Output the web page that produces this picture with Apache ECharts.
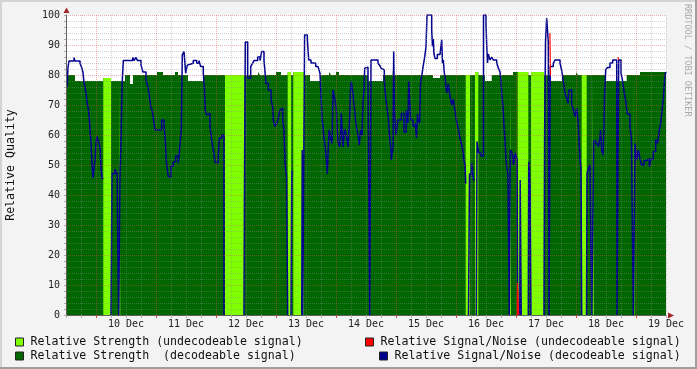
<!DOCTYPE html>
<html><head><meta charset="utf-8">
<script src="https://cdn.jsdelivr.net/npm/echarts@6/dist/echarts.min.js"></script>
<style>html,body{margin:0;padding:0;background:#f3f3f3;}#c{width:697px;height:369px;}</style>
</head><body><div id="c"></div>
<script>
// x = sample index, one step = 24 minutes, index 0 = 9 Dec 12:00
const dayLabels = ['10 Dec','11 Dec','12 Dec','13 Dec','14 Dec','15 Dec','16 Dec','17 Dec','18 Dec','19 Dec'];
const yTicks = [0,10,20,30,40,50,60,70,80,90,100];
const midnightIdx = [30,90,150,210,270,330,390,450,510,570];

// total relative strength (step changes)
const strength = [[0,80],[9,78],[37.3,79],[45,78],[59,80],[64,77],[67,80],[91,81],[97,80],[109,81],[112,80],[122,78],[137,80],[192,81],[194,80],[210,81],[215,80],[221.7,81],[225,80],[227.3,81],[238,80],[244,78],[254,80],[263,81],[265,80],[270,81],[273,80],[302,78],[317,80],[326.7,81.5],[328.3,80],[367,79],[374,80],[409,81],[412.3,80],[419,78],[425.7,80],[447,81],[462.3,80],[465,81],[478,80],[485,78],[496,80],[510,81],[512,80],[539,78],[560.7,80],[574,81],[600,81]];

// relative strength while the signal was undecodeable
const undecodeableStrength = [[0,0],[37.3,79],[45,0],[53.3,79],[54.3,0],[159,80],[178.3,0],[221.7,81],[225,0],[227.3,81],[238,0],[399.7,80],[404,0],[409,81],[412.3,0],[444,80],[445,0],[451.7,81],[462.3,0],[465,81],[478,0],[515.7,80],[520.7,0],[526.7,80],[527.7,0],[567.7,80],[568.5,0],[600,0]];

// relative signal/noise, decodeable signal
const snDecodeable = [[1,76],[2,82.5],[3,84.7],[8,85.8],[9,84.7],[14,83.9],[16,82.2],[17,80.8],[18,77.4],[19,75.9],[20,74],[21,71],[22,69.4],[23,66.7],[24,62],[25,57],[26,50.6],[27,45.6],[29,52],[30,57],[31,59.5],[33,57],[34,56],[35,49],[36,45.6],[37.3,null],
[45,0],[46,47.2],[49,48.6],[51,47.2],[52.7,0],[54,47],[55,58],[55.7,70],[56.3,78.3],[57.3,84.8],[66.7,85.9],[68,84.8],[70,85.9],[71.3,84.8],[75,83.3],[77,81],[80,78.3],[82,76],[83.3,73.3],[84.7,69.4],[86.3,68],[88,64],[89,61.7],[95.7,65],[98,63.3],[99.3,58],[100.5,50.6],[102.3,46.1],[105,49.7],[107.3,51.1],[109.7,53],[112.3,50.6],[114,56.7],[115.3,62],[116.3,86.7],[118,87.8],[119.7,80.6],[121.3,83.3],[123.3,83.9],[127.3,84.8],[130.7,83.9],[133,84.8],[134.7,82.8],[137.3,80.6],[138.3,76.1],[139.3,68.3],[140.7,66.7],[142.3,67.2],[144,62.8],[145.7,58.3],[146.7,56.1],[148,54],[149,50.8],[152.3,52.8],[153.3,59],[155.7,60],[158,0],[159,null],
[178,0],[178.6,51.7],[179.3,91],[181.7,78.9],[184.7,82.8],[186.3,83.7],[188,84.8],[191.7,86],[194,84.8],[195.7,87.8],[198,84.8],[200,77.2],[202.3,75],[205,71.7],[206.7,69.4],[207.3,65],[209,62.8],[211,64],[212.7,66.1],[214,68.3],[215.7,68.9],[216.7,65],[218,61.7],[219,50.6],[220.5,46.1],[221.7,0],[222.2,null],
[225,0],[225.8,47.8],[227.3,null],
[235.8,0],[236.2,55],[236.8,0],[238.6,93.3],[241.3,92.2],[242.7,85],[245,84],[247.3,83.9],[249.7,82.8],[252,82.6],[254,80.6],[254.7,75],[255.3,71.7],[256,66],[257,62.8],[258,59],[259.3,56],[260.5,51],[261.3,47],[263,61.7],[264.5,59],[266,57.2],[267,75],[268.7,72],[270.3,69],[271,63],[272,58],[273.7,56],[274.5,59.5],[275.3,67.2],[277,56],[278.7,62],[280.3,60],[282,56],[283.7,66],[284.5,75],[285.3,77.8],[287,74],[287.7,71],[289,67],[289.3,65.5],[291,61.7],[292,60],[293.3,56.7],[294.7,61.7],[296,60],[297,71],[298,75],[298.7,82.3],[300.3,82.6],[302,81.7],[303.7,0],[305,85],[312,84],[314,83],[315.3,82.2],[317.3,81.7],[318.3,78],[319,75],[320,71.7],[321.3,68.3],[322.3,66],[323,62],[324,58.3],[324.7,56],[325.3,51.7],[327,56],[327.7,87.8],[328.5,67],[330,60],[332,65],[335.3,67.2],[338,61],[340.3,68.3],[342,64],[342.7,78],[344.7,65],[347,63],[349.3,64],[350.5,59],[351.5,67],[352,65],[353.7,64],[354.5,77.3],[355.7,79.5],[357,82.6],[358.7,86],[360,89.4],[361,100],[365.7,95],[366.5,89.5],[367.3,92],[368,87],[369,85.5],[371.3,86.8],[374,86.5],[375.7,91.7],[376.5,84],[377.3,85],[378.2,81],[379,79.4],[380,76.1],[380.7,74],[382.3,77],[384,73],[385.7,70],[387.3,72],[389,68],[390.3,65],[391.3,63.5],[393,61],[394,59],[395.5,57],[396.7,55],[397.8,52],[399,50],[399.7,44],[400.5,null],
[402.5,0],[403.5,47],[405.7,50.6],[407.5,45],[409,null],
[410.3,0],[411,57.8],[412.7,54],[415,53],[417.5,100],[420,97],[420.7,90],[421.5,84],[422.3,87],[424,85],[425.7,86],[427.3,85],[430.7,84],[431.7,83.9],[432.5,82.2],[434,81],[435,77.8],[436,73],[437,69.4],[438,63],[439,58.3],[440,52],[440.7,49.4],[442,47],[443.3,0],[444.3,55],[446.3,54],[447.5,50],[448.5,52],[449,54],[451,52],[451.7,0],[452.5,null],
[453.8,0],[454.2,45],[455.2,0],[455.6,null],
[462.3,0],[462.7,51],[464,43],[465,0],[465.5,null],
[478,0],[478.6,60],[479.5,91],[480.7,98.9],[482.3,91],[483,0],[484.3,82.8],[487.3,83.9],[489,85],[494,84],[495.7,81.5],[497.3,78],[499,74],[500.7,72.2],[502,70.6],[503,75],[505.7,70],[507,69],[509,66.1],[510.7,68.9],[512.3,64],[513,58],[514,52],[515,48.3],[515.7,0],[516.2,null],
[520.5,0],[521,47.2],[522.7,49],[524,50],[525.7,0],[527.7,58],[530,57],[532.3,56],[534,59],[534.5,61.7],[535.7,55],[537,53.3],[538,62],[538.5,73],[539.7,81.7],[541.3,82.5],[544,84],[546.7,85],[550.7,84.5],[551,0],[552.7,85],[555,80.6],[556.3,78.5],[558.3,73.9],[559.7,71.5],[561.3,67],[564,62.8],[565.5,58.3],[567.3,0],[569,57.2],[570.7,51.7],[572.3,55],[574,52],[575.7,50],[578,51.5],[580.7,52],[583.3,49.4],[585,52],[587.3,54.5],[589.7,58.5],[591.7,57.3],[593,61],[594.7,64],[596,68],[597.3,72],[599,80],[600,81]];

// relative signal/noise, undecodeable signal
const snUndecodeable = [[451.3,0],[451.5,10.7],[452.7,0],[452.8,null],[483.9,94],[484.5,80],[484.6,null],[552,86],[552.6,85],[552.7,null]];

const names = ['Relative Strength (undecodeable signal)','Relative Strength  (decodeable signal)','Relative Signal/Noise (undecodeable signal)','Relative Signal/Noise (decodeable signal)'];

const FONT = 'DejaVu Sans Mono';
const minorGrid = 'rgba(143,143,143,0.38)';
const majorGrid = 'rgba(222,80,80,0.45)';
const cDark = '#006600', cLight = '#80ff00', cBlue = '#000090', cRed = '#ff0000';

const chart = echarts.init(document.getElementById('c'), null, {renderer: 'canvas'});
const legendCommon = {orient:'horizontal', padding:0, itemWidth:8, itemHeight:8, icon:'rect', itemGap:0, selectedMode:false,
  textStyle:{fontFamily:FONT, fontSize:11.6, color:'#111', padding:[0,0,0,2]}, itemStyle:{borderColor:'#222', borderWidth:1}};
chart.setOption({
  backgroundColor:'#f3f3f3',
  animation:false,
  grid:{left:66, top:15, width:600, height:300, show:true, backgroundColor:'#ffffff', borderWidth:0, containLabel:false, outerBoundsMode:'none'},
  xAxis:[{
    type:'value', min:0, max:600, interval:15, z:10,
    axisLine:{show:true, onZero:false, lineStyle:{color:'#606060', width:1}},
    axisTick:{show:true, length:3, lineStyle:{color:'#aaaaaa'}},
    axisLabel:{margin:4, fontFamily:FONT, fontSize:10, color:'#222',
      formatter:function(v){ return (v>0 && v%60===0) ? dayLabels[v/60-1] : ''; }},
    splitLine:{show:true, lineStyle:{color:[minorGrid,minorGrid,majorGrid,minorGrid], type:[1,1], width:1}}
  },{
    type:'value', min:0, max:600, position:'bottom', z:11,
    axisLine:{show:false}, axisLabel:{show:false}, splitLine:{show:false},
    axisTick:{show:true, length:3, customValues:midnightIdx, lineStyle:{color:'#c05050'}}
  }],
  yAxis:[{
    type:'value', min:0, max:100, interval:2, z:10,
    name:'Relative Quality', nameLocation:'middle', nameGap:49,
    nameTextStyle:{fontFamily:FONT, fontSize:11.6, color:'#111'},
    axisLine:{show:true, onZero:false, lineStyle:{color:'#606060', width:1}},
    axisTick:{show:true, length:2, lineStyle:{color:'#aaaaaa'}},
    axisLabel:{margin:6, fontFamily:FONT, fontSize:10, color:'#222',
      formatter:function(v){ return yTicks.indexOf(v)>=0 ? String(v) : ''; }},
    splitLine:{show:true, lineStyle:{color:[majorGrid,minorGrid,minorGrid,minorGrid,minorGrid], type:[1,1], width:1}}
  }],
  legend:[
    Object.assign({data:[names[0]], left:15, top:336}, legendCommon),
    Object.assign({data:[names[1]], left:15, top:350}, legendCommon),
    Object.assign({data:[names[2]], left:365, top:336}, legendCommon),
    Object.assign({data:[names[3]], left:379, top:350}, legendCommon)
  ],
  series:[
    {name:names[1], type:'line', step:'end', data:strength, symbol:'none', color:cDark,
      lineStyle:{width:0}, areaStyle:{color:cDark, opacity:1}, z:1},
    {name:names[0], type:'line', step:'end', data:undecodeableStrength, symbol:'none', color:cLight,
      lineStyle:{width:0}, areaStyle:{color:cLight, opacity:1}, z:2},
    {name:names[3], type:'line', step:'end', data:snDecodeable, symbol:'none', color:cBlue, connectNulls:false,
      lineStyle:{width:1.5, color:cBlue}, z:3},
    {name:names[2], type:'line', step:'end', data:snUndecodeable, symbol:'none', color:cRed, connectNulls:false,
      lineStyle:{width:1.2, color:cRed}, z:4}
  ],
  graphic:[
    {type:'rect', shape:{x:0,y:0,width:697,height:2}, style:{fill:'#d4d4d4'}, silent:true},
    {type:'rect', shape:{x:0,y:0,width:2,height:369}, style:{fill:'#d4d4d4'}, silent:true},
    {type:'rect', shape:{x:695,y:0,width:2,height:369}, style:{fill:'#9e9e9e'}, silent:true},
    {type:'rect', shape:{x:0,y:367,width:697,height:2}, style:{fill:'#9e9e9e'}, silent:true},
    {type:'polygon', shape:{points:[[63.5,13],[69.5,13],[66.5,7.5]]}, style:{fill:'#a02828'}, silent:true, z:20},
    {type:'polygon', shape:{points:[[668,312.5],[668,318.5],[674,315.5]]}, style:{fill:'#a02828'}, silent:true, z:20},
    {type:'text', x:687, y:4, rotation:-Math.PI/2, silent:true,
      style:{text:'RRDTOOL / TOBI OETIKER', font:'8.5px "DejaVu Sans Mono"', fill:'#aaaaaa', align:'left', verticalAlign:'middle'}}
  ]
});
</script>
</body></html>
